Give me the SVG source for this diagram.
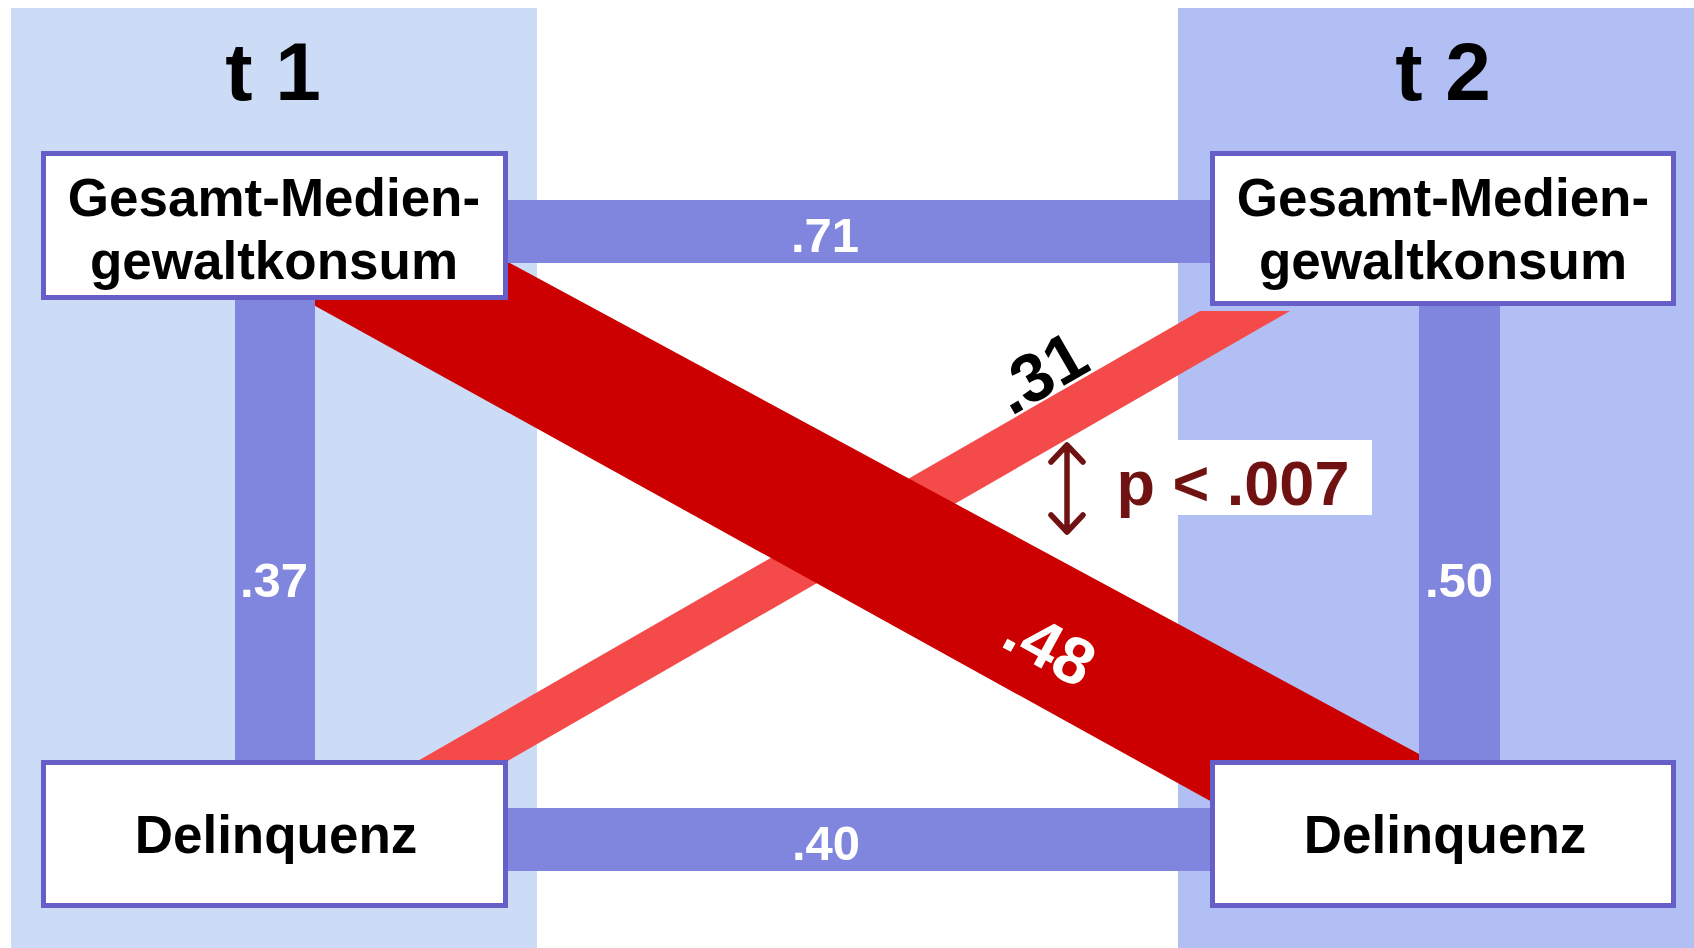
<svg xmlns="http://www.w3.org/2000/svg" width="1694" height="948" viewBox="0 0 1694 948">
<style>
.t{font-family:"Liberation Sans",Arial,sans-serif;font-weight:bold;text-anchor:middle}
.box{fill:#fff;stroke:#675FC8;stroke-width:5}
.bar{fill:#8085DD}
.lbl{fill:#fff;font-size:49px}
.node{fill:#000;font-size:53px}
.arr{fill:none;stroke:#701212;stroke-width:5.5;stroke-linecap:round;stroke-linejoin:round}
</style>
<rect width="1694" height="948" fill="#fff"/>
<g id="panels">
<rect x="11" y="8" width="526" height="940" fill="#CCDCF7"/>
<rect x="1178" y="8" width="516" height="940" fill="#B2BFF5"/>
<text class="t" x="273" y="100" font-size="82">t 1</text>
<text class="t" x="1443" y="100" font-size="82">t 2</text>
</g>
<g id="connectors">
<polygon points="402,770 1200,311 1290,311 492,770" fill="#F44A4A"/>
<polygon points="480,247 1432,761 1232,813 290,292" fill="#CC0000"/>
<rect class="bar" x="500" y="200" width="720" height="63"/>
<rect class="bar" x="500" y="808" width="720" height="63"/>
<rect class="bar" x="235" y="290" width="80" height="480"/>
<rect class="bar" x="1419" y="295" width="81" height="475"/>
<text class="t lbl" x="825" y="252">.71</text>
<text class="t lbl" x="826" y="860">.40</text>
<text class="t lbl" x="274" y="597">.37</text>
<text class="t lbl" x="1459" y="597">.50</text>
<text class="t" font-size="68" fill="#000" transform="translate(1040,372) rotate(-30)" y="24">.31</text>
<text class="t" font-size="66" fill="#fff" transform="translate(1050,647) rotate(28.6)" y="23">.48</text>
<rect x="1178" y="440" width="194" height="75" fill="#fff"/>
<path class="arr" d="M1067,446 V530 M1051,462 L1067,445 L1083,462 M1051,515 L1067,532 L1083,515"/>
<text class="t" x="1233" y="505" font-size="63" fill="#701212">p &lt; .007</text>
</g>
<g id="n1">
<rect class="box" x="43.5" y="153.5" width="462" height="144"/>
<text class="t node" x="274" y="216">Gesamt-Medien-</text>
<text class="t node" x="274" y="279">gewaltkonsum</text>
</g>
<g id="n2">
<rect class="box" x="1212.5" y="153.5" width="461" height="150"/>
<text class="t node" x="1443" y="216">Gesamt-Medien-</text>
<text class="t node" x="1443" y="279">gewaltkonsum</text>
</g>
<g id="n3">
<rect class="box" x="43.5" y="762.5" width="462" height="143"/>
<text class="t node" x="276" y="853">Delinquenz</text>
</g>
<g id="n4">
<rect class="box" x="1212.5" y="762.5" width="461" height="143"/>
<text class="t node" x="1445" y="853">Delinquenz</text>
</g>
</svg>
